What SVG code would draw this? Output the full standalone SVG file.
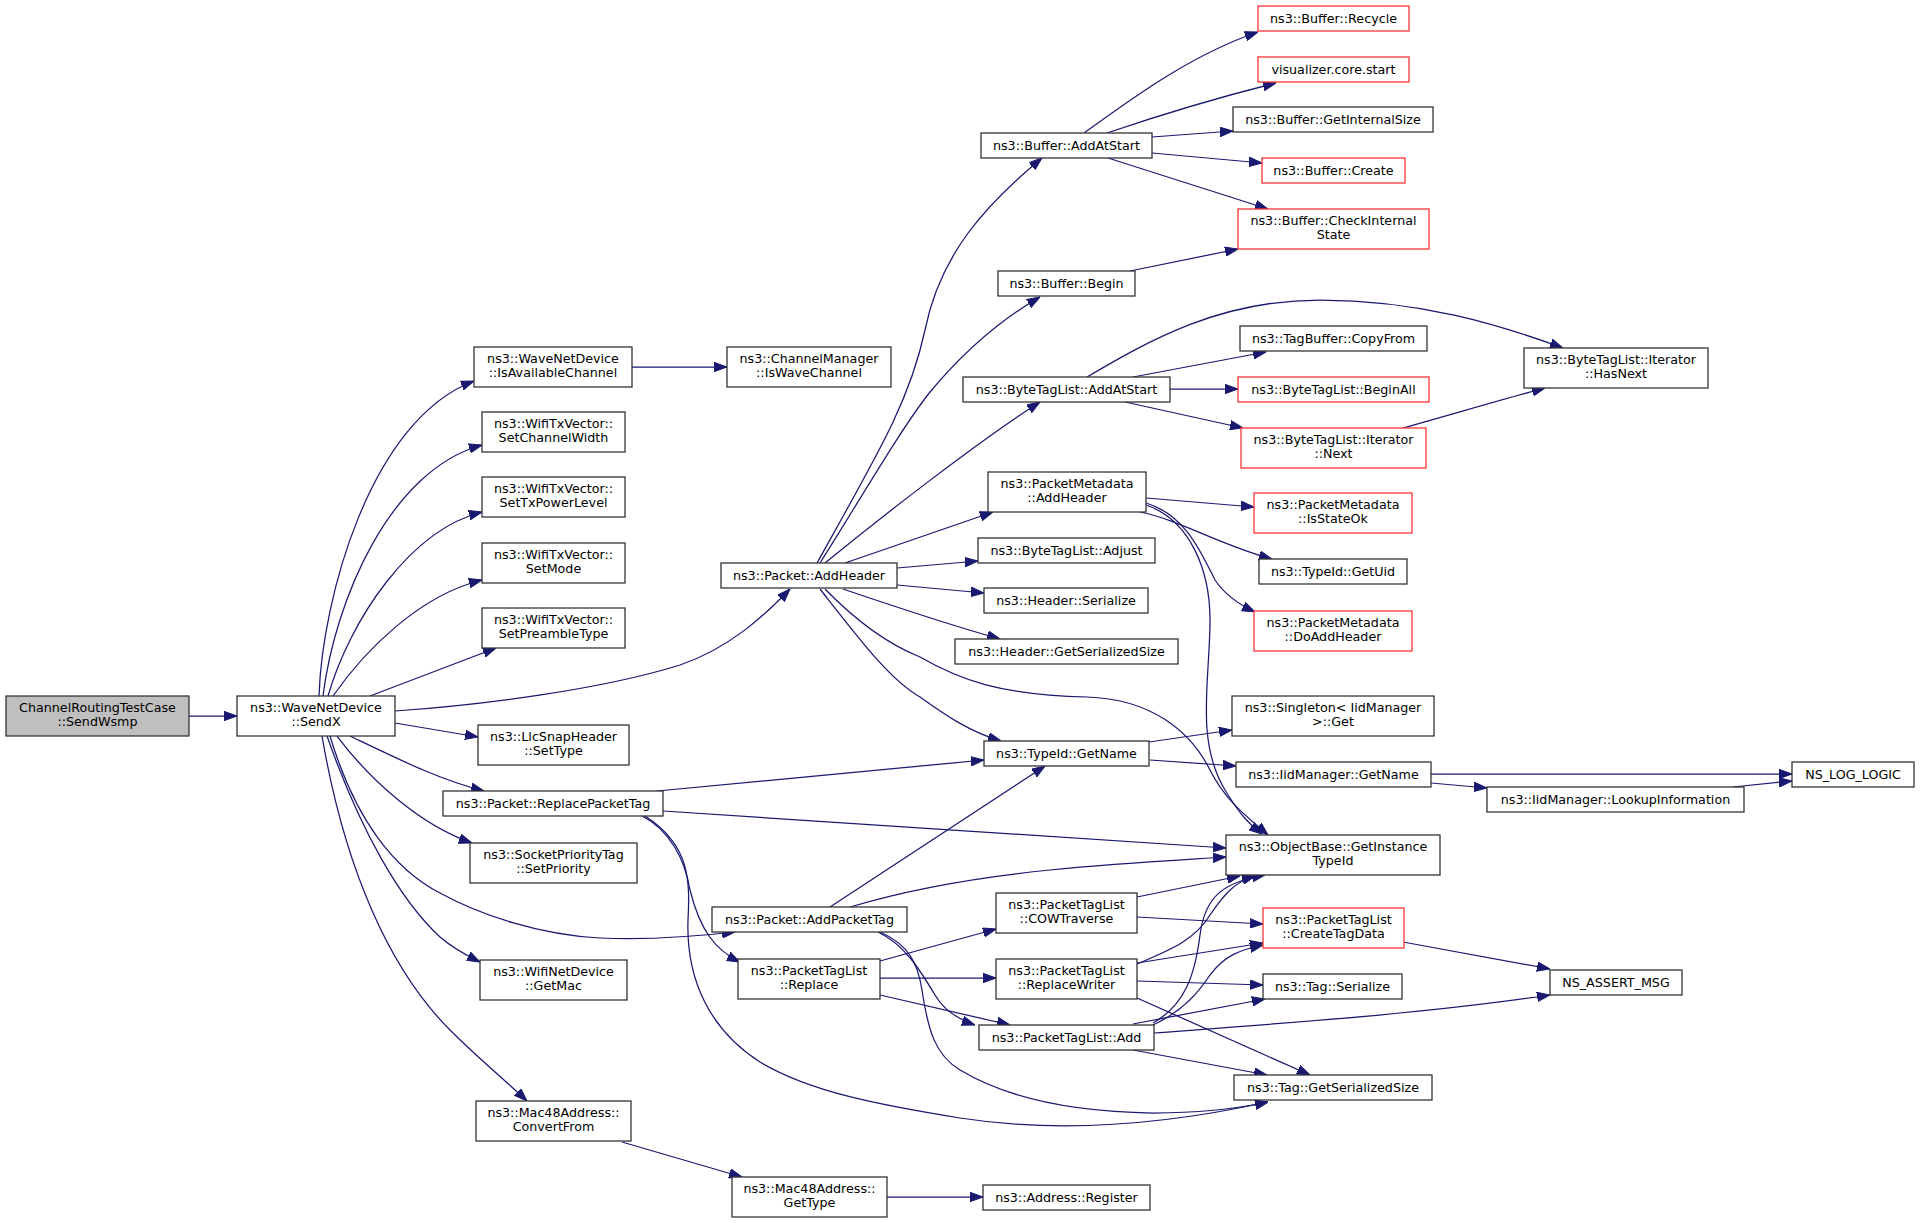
<svg xmlns="http://www.w3.org/2000/svg" width="1920" height="1223" viewBox="0 0 1920 1223">
<style>
.n rect{fill:#fff;stroke:#333;stroke-width:1.3}
.n.r rect{stroke:#f33}
.n.root rect{fill:#bfbfbf}
.n text{font-family:"DejaVu Sans","Liberation Sans",sans-serif;font-size:12.7px;fill:#000;text-anchor:middle}
#edges path{fill:none;stroke:#191970;stroke-width:1.25;marker-end:url(#a)}
</style>
<defs>
<marker id="a" markerWidth="13" markerHeight="10" refX="13" refY="5" orient="auto" markerUnits="userSpaceOnUse"><path d="M0,0.3 L13,5 L0,9.7 z" fill="#191970" stroke="#191970" stroke-width="1"/></marker>
</defs>
<rect width="1920" height="1223" fill="#fff"/>
<g id="edges">
<path d="M189,716 L237,716"/>
<path d="M319,696 C322,600 370,420 474,381"/>
<path d="M323,696 C335,600 390,470 482,445"/>
<path d="M328,696 C350,620 410,530 482,512"/>
<path d="M333,696 C365,650 420,595 482,580"/>
<path d="M370,696 L496,648"/>
<path d="M395,711 C480,705 600,690 680,665 C730,648 765,615 790,589"/>
<path d="M395,723 L478,737"/>
<path d="M350,736 C400,760 440,780 484,791"/>
<path d="M337,736 C370,780 420,825 472,843"/>
<path d="M330,736 C355,820 395,870 440,893 C480,915 540,935 600,938 C650,940 700,936 735,932"/>
<path d="M327,736 C360,830 400,900 440,937 C455,950 468,956 480,962"/>
<path d="M322,736 C345,870 390,970 450,1030 C480,1060 505,1080 527,1101"/>
<path d="M817,563 C880,450 910,400 925,330 C940,255 985,205 1042,158"/>
<path d="M820,563 C860,500 900,430 930,392 C965,350 1000,320 1040,297"/>
<path d="M825,563 C880,518 980,440 1040,402"/>
<path d="M845,563 L993,512"/>
<path d="M897,568 L978,561"/>
<path d="M897,585 L984,593"/>
<path d="M843,589 C890,605 950,625 1000,639"/>
<path d="M825,589 C860,625 890,645 920,657 C960,680 1000,695 1087,697 C1150,699 1190,730 1210,770 C1225,800 1245,815 1268,835"/>
<path d="M820,589 C860,640 890,680 920,697 C945,715 970,732 1001,741"/>
<path d="M1146,498 L1254,507"/>
<path d="M1140,512 C1180,520 1220,545 1272,559"/>
<path d="M1146,503 C1185,515 1200,550 1215,580 C1225,595 1240,605 1255,612"/>
<path d="M1146,505 C1190,520 1210,570 1210,620 C1210,680 1195,740 1225,790 C1240,815 1250,825 1262,834"/>
<path d="M1084,133 C1130,100 1190,55 1258,32"/>
<path d="M1107,133 C1160,115 1220,97 1276,83"/>
<path d="M1152,137 L1233,131"/>
<path d="M1152,153 L1262,163"/>
<path d="M1108,158 L1268,209"/>
<path d="M1130,271 L1238,249"/>
<path d="M1087,377 C1150,340 1220,300 1320,300 C1420,300 1500,325 1563,348"/>
<path d="M1133,377 L1266,352"/>
<path d="M1170,389 L1238,389"/>
<path d="M1125,402 L1243,428"/>
<path d="M1403,428 C1450,415 1500,400 1545,388"/>
<path d="M1149,742 L1232,730"/>
<path d="M1150,760 L1236,766"/>
<path d="M1431,774 L1792,774"/>
<path d="M1431,783 L1487,788"/>
<path d="M1733,787 L1792,781"/>
<path d="M657,791 L984,760"/>
<path d="M663,811 L1226,848"/>
<path d="M642,816 C670,830 685,860 690,890 C700,930 715,950 740,962"/>
<path d="M645,816 C690,845 690,880 688,920 C686,980 710,1030 760,1062 C810,1092 880,1105 960,1118 C1050,1132 1150,1128 1268,1102"/>
<path d="M830,907 L1045,766"/>
<path d="M850,907 C890,895 950,880 1050,870 C1120,863 1180,860 1226,857"/>
<path d="M878,932 C905,945 920,970 935,995 C945,1012 960,1020 975,1025"/>
<path d="M880,932 C910,945 918,965 922,990 C928,1030 935,1055 960,1070 C1010,1100 1080,1112 1153,1113 C1200,1113 1240,1108 1268,1102"/>
<path d="M880,961 L996,929"/>
<path d="M880,978 L996,978"/>
<path d="M880,995 L1010,1025"/>
<path d="M1137,897 L1240,876"/>
<path d="M1137,917 L1263,924"/>
<path d="M1137,964 C1170,950 1195,940 1210,915 C1225,893 1235,882 1255,876"/>
<path d="M1137,963 L1263,943"/>
<path d="M1137,981 L1263,985"/>
<path d="M1137,998 L1310,1075"/>
<path d="M1153,1023 C1185,1005 1195,975 1200,935 C1205,895 1225,882 1265,875"/>
<path d="M1153,1025 C1185,1010 1200,990 1210,975 C1225,955 1240,950 1263,945"/>
<path d="M1133,1024 L1265,999"/>
<path d="M1154,1033 C1300,1022 1430,1013 1550,995"/>
<path d="M1133,1050 L1267,1075"/>
<path d="M1403,942 L1550,969"/>
<path d="M622,1142 L742,1177"/>
<path d="M887,1197 L983,1197"/>
<path d="M632,367 L727,367"/>
</g>
<g id="n_sendwsmp" class="n root"><rect x="6" y="696" width="183" height="40"/><text x="97.5" y="712.3">ChannelRoutingTestCase</text><text x="97.5" y="726.3">::SendWsmp</text></g>
<g id="n_sendx" class="n"><rect x="237" y="696" width="158" height="40"/><text x="316" y="712.3">ns3::WaveNetDevice</text><text x="316" y="726.3">::SendX</text></g>
<g id="n_isavail" class="n"><rect x="474" y="347" width="158" height="40"/><text x="553" y="363.3">ns3::WaveNetDevice</text><text x="553" y="377.3">::IsAvailableChannel</text></g>
<g id="n_iswave" class="n"><rect x="727" y="347" width="164" height="40"/><text x="809" y="363.3">ns3::ChannelManager</text><text x="809" y="377.3">::IsWaveChannel</text></g>
<g id="n_setchw" class="n"><rect x="482" y="412" width="143" height="40"/><text x="553.5" y="428.3">ns3::WifiTxVector::</text><text x="553.5" y="442.3">SetChannelWidth</text></g>
<g id="n_settxp" class="n"><rect x="482" y="477" width="143" height="40"/><text x="553.5" y="493.3">ns3::WifiTxVector::</text><text x="553.5" y="507.3">SetTxPowerLevel</text></g>
<g id="n_setmode" class="n"><rect x="482" y="543" width="143" height="40"/><text x="553.5" y="559.3">ns3::WifiTxVector::</text><text x="553.5" y="573.3">SetMode</text></g>
<g id="n_setpre" class="n"><rect x="482" y="608" width="143" height="40"/><text x="553.5" y="624.3">ns3::WifiTxVector::</text><text x="553.5" y="638.3">SetPreambleType</text></g>
<g id="n_addheader" class="n"><rect x="721" y="563" width="176" height="25"/><text x="809" y="579.5">ns3::Packet::AddHeader</text></g>
<g id="n_llc" class="n"><rect x="478" y="725" width="151" height="40"/><text x="553.5" y="741.3">ns3::LlcSnapHeader</text><text x="553.5" y="755.3">::SetType</text></g>
<g id="n_replpt" class="n"><rect x="443" y="791" width="220" height="25"/><text x="553" y="807.5">ns3::Packet::ReplacePacketTag</text></g>
<g id="n_sockprio" class="n"><rect x="470" y="843" width="167" height="40"/><text x="553.5" y="859.3">ns3::SocketPriorityTag</text><text x="553.5" y="873.3">::SetPriority</text></g>
<g id="n_addpt" class="n"><rect x="712" y="907" width="195" height="25"/><text x="809.5" y="923.5">ns3::Packet::AddPacketTag</text></g>
<g id="n_ptlreplace" class="n"><rect x="738" y="959" width="142" height="40"/><text x="809" y="975.3">ns3::PacketTagList</text><text x="809" y="989.3">::Replace</text></g>
<g id="n_getmac" class="n"><rect x="480" y="960" width="147" height="40"/><text x="553.5" y="976.3">ns3::WifiNetDevice</text><text x="553.5" y="990.3">::GetMac</text></g>
<g id="n_convfrom" class="n"><rect x="476" y="1101" width="155" height="40"/><text x="553.5" y="1117.3">ns3::Mac48Address::</text><text x="553.5" y="1131.3">ConvertFrom</text></g>
<g id="n_gettype" class="n"><rect x="732" y="1177" width="155" height="40"/><text x="809.5" y="1193.3">ns3::Mac48Address::</text><text x="809.5" y="1207.3">GetType</text></g>
<g id="n_recycle" class="n r"><rect x="1258" y="6" width="151" height="25"/><text x="1333.5" y="22.5">ns3::Buffer::Recycle</text></g>
<g id="n_viz" class="n r"><rect x="1258" y="57" width="151" height="25"/><text x="1333.5" y="73.5">visualizer.core.start</text></g>
<g id="n_getintsize" class="n"><rect x="1233" y="107" width="200" height="25"/><text x="1333" y="123.5">ns3::Buffer::GetInternalSize</text></g>
<g id="n_bufaddstart" class="n"><rect x="981" y="133" width="171" height="25"/><text x="1066.5" y="149.5">ns3::Buffer::AddAtStart</text></g>
<g id="n_bufcreate" class="n r"><rect x="1262" y="158" width="143" height="25"/><text x="1333.5" y="174.5">ns3::Buffer::Create</text></g>
<g id="n_checkint" class="n r"><rect x="1238" y="209" width="191" height="40"/><text x="1333.5" y="225.3">ns3::Buffer::CheckInternal</text><text x="1333.5" y="239.3">State</text></g>
<g id="n_bufbegin" class="n"><rect x="998" y="271" width="137" height="25"/><text x="1066.5" y="287.5">ns3::Buffer::Begin</text></g>
<g id="n_copyfrom" class="n"><rect x="1240" y="326" width="187" height="25"/><text x="1333.5" y="342.5">ns3::TagBuffer::CopyFrom</text></g>
<g id="n_btladdstart" class="n"><rect x="963" y="377" width="207" height="25"/><text x="1066.5" y="393.5">ns3::ByteTagList::AddAtStart</text></g>
<g id="n_beginall" class="n r"><rect x="1238" y="377" width="191" height="25"/><text x="1333.5" y="393.5">ns3::ByteTagList::BeginAll</text></g>
<g id="n_hasnext" class="n"><rect x="1524" y="348" width="184" height="40"/><text x="1616" y="364.3">ns3::ByteTagList::Iterator</text><text x="1616" y="378.3">::HasNext</text></g>
<g id="n_next" class="n r"><rect x="1241" y="428" width="185" height="40"/><text x="1333.5" y="444.3">ns3::ByteTagList::Iterator</text><text x="1333.5" y="458.3">::Next</text></g>
<g id="n_pmaddheader" class="n"><rect x="988" y="472" width="158" height="40"/><text x="1067" y="488.3">ns3::PacketMetadata</text><text x="1067" y="502.3">::AddHeader</text></g>
<g id="n_isstateok" class="n r"><rect x="1254" y="493" width="158" height="40"/><text x="1333" y="509.3">ns3::PacketMetadata</text><text x="1333" y="523.3">::IsStateOk</text></g>
<g id="n_adjust" class="n"><rect x="978" y="538" width="177" height="25"/><text x="1066.5" y="554.5">ns3::ByteTagList::Adjust</text></g>
<g id="n_getuid" class="n"><rect x="1259" y="559" width="148" height="25"/><text x="1333" y="575.5">ns3::TypeId::GetUid</text></g>
<g id="n_hdrser" class="n"><rect x="984" y="588" width="164" height="25"/><text x="1066" y="604.5">ns3::Header::Serialize</text></g>
<g id="n_doaddheader" class="n r"><rect x="1254" y="611" width="158" height="40"/><text x="1333" y="627.3">ns3::PacketMetadata</text><text x="1333" y="641.3">::DoAddHeader</text></g>
<g id="n_hdrgss" class="n"><rect x="955" y="639" width="223" height="25"/><text x="1066.5" y="655.5">ns3::Header::GetSerializedSize</text></g>
<g id="n_singleton" class="n"><rect x="1232" y="696" width="202" height="40"/><text x="1333" y="712.3">ns3::Singleton&lt; IidManager</text><text x="1333" y="726.3">&gt;::Get</text></g>
<g id="n_tidgetname" class="n"><rect x="984" y="741" width="165" height="25"/><text x="1066.5" y="757.5">ns3::TypeId::GetName</text></g>
<g id="n_iidgetname" class="n"><rect x="1236" y="762" width="195" height="25"/><text x="1333.5" y="778.5">ns3::IidManager::GetName</text></g>
<g id="n_nslog" class="n"><rect x="1792" y="762" width="122" height="25"/><text x="1853" y="778.5">NS_LOG_LOGIC</text></g>
<g id="n_lookup" class="n"><rect x="1487" y="787" width="257" height="25"/><text x="1615.5" y="803.5">ns3::IidManager::LookupInformation</text></g>
<g id="n_getinst" class="n"><rect x="1226" y="835" width="214" height="40"/><text x="1333" y="851.3">ns3::ObjectBase::GetInstance</text><text x="1333" y="865.3">TypeId</text></g>
<g id="n_cow" class="n"><rect x="996" y="893" width="141" height="40"/><text x="1066.5" y="909.3">ns3::PacketTagList</text><text x="1066.5" y="923.3">::COWTraverse</text></g>
<g id="n_createtag" class="n r"><rect x="1263" y="908" width="141" height="40"/><text x="1333.5" y="924.3">ns3::PacketTagList</text><text x="1333.5" y="938.3">::CreateTagData</text></g>
<g id="n_replwriter" class="n"><rect x="996" y="959" width="141" height="40"/><text x="1066.5" y="975.3">ns3::PacketTagList</text><text x="1066.5" y="989.3">::ReplaceWriter</text></g>
<g id="n_tagser" class="n"><rect x="1263" y="974" width="139" height="25"/><text x="1332.5" y="990.5">ns3::Tag::Serialize</text></g>
<g id="n_assert" class="n"><rect x="1550" y="970" width="132" height="25"/><text x="1616" y="986.5">NS_ASSERT_MSG</text></g>
<g id="n_ptladd" class="n"><rect x="979" y="1025" width="175" height="25"/><text x="1066.5" y="1041.5">ns3::PacketTagList::Add</text></g>
<g id="n_taggss" class="n"><rect x="1234" y="1075" width="198" height="25"/><text x="1333" y="1091.5">ns3::Tag::GetSerializedSize</text></g>
<g id="n_register" class="n"><rect x="983" y="1185" width="167" height="25"/><text x="1066.5" y="1201.5">ns3::Address::Register</text></g>
</svg>
